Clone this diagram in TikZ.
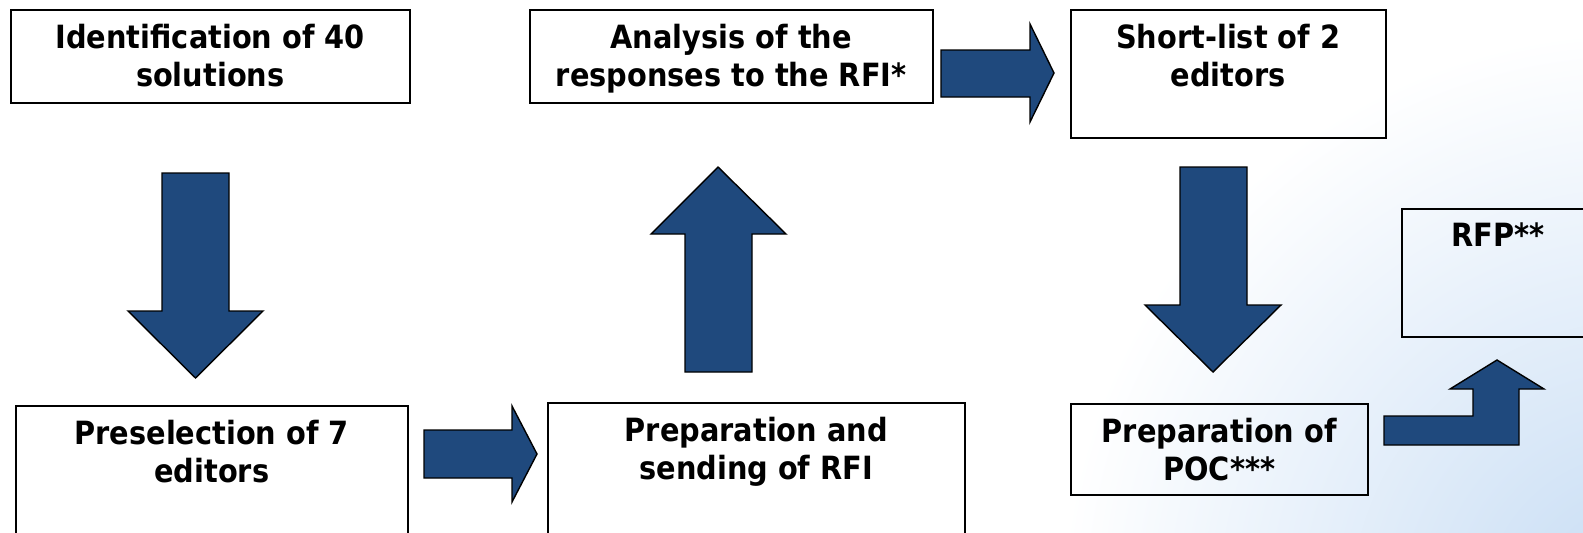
\documentclass[tikz,border=0pt]{standalone}
\usepackage{fontspec}
\setmainfont{DejaVu Sans}[FakeStretch=0.9]
\definecolor{arrowblue}{HTML}{1F497D}
\definecolor{wmblue}{RGB}{198,220,244}

\begin{document}
\begin{tikzpicture}[x=1pt, y=-1pt,
  box/.style={draw, line width=1.5pt, anchor=north west, inner sep=0pt},
  txt/.style={anchor=north, align=center, inner sep=0pt, yshift=-15pt,
    font=\bfseries\fontsize{32}{37.5}\selectfont},
  blockarrow/.style={draw, line width=1.4pt, fill=arrowblue, line join=miter}]
 \useasboundingbox (0,0) rectangle (1583,533);
 \shade[inner color=wmblue, outer color=white] (1640,610) circle (580);

 \node[box, minimum width=399pt, minimum height=93pt]  (ident)     at (10,9)    {};
 \node[box, minimum width=403pt, minimum height=93pt]  (analysis)  at (529,9)   {};
 \node[box, minimum width=315pt, minimum height=128pt] (shortlist) at (1070,9)  {};
 \node[box, minimum width=192pt, minimum height=128pt] (rfp)       at (1401,208){};
 \node[box, minimum width=392pt, minimum height=140pt] (presel)    at (15,405)  {};
 \node[box, minimum width=417pt, minimum height=140pt] (rfi)       at (547,402) {};
 \node[box, minimum width=297pt, minimum height=91pt]  (poc)       at (1070,403){};

 \node[txt] (identtxt)     at (ident.north)     {Identification of 40\\solutions};
 \node[txt] (analysistxt)  at (analysis.north)  {Analysis of the\\responses to the RFI*};
 \node[txt] (shortlisttxt) at (shortlist.north) {Short-list of 2\\editors};
 \node[txt] (rfptxt)       at (rfp.north)       {RFP**};
 \node[txt] (preseltxt)    at (presel.north)    {Preselection of 7\\editors};
 \node[txt] (rfitxt)       at (rfi.north)       {Preparation and\\sending of RFI};
 \node[txt] (poctxt)       at (poc.north)       {Preparation of\\POC***};

 \draw[blockarrow] (162,173) -- (229,173) -- (229,311) -- (263,311) -- (195.5,378) -- (128,311) -- (162,311) -- cycle;
 \draw[blockarrow] (424,430) -- (512,430) -- (512,406) -- (537,454) -- (512,502) -- (512,478) -- (424,478) -- cycle;
 \draw[blockarrow] (685,372) -- (685,234) -- (651,234) -- (718,167) -- (786,234) -- (752,234) -- (752,372) -- cycle;
 \draw[blockarrow] (941,50) -- (1030,50) -- (1030,24) -- (1054,73) -- (1030,122) -- (1030,97) -- (941,97) -- cycle;
 \draw[blockarrow] (1180,167) -- (1247,167) -- (1247,305) -- (1281,305) -- (1213,372) -- (1145,305) -- (1180,305) -- cycle;
 \draw[blockarrow] (1384,416) -- (1473,416) -- (1473,389) -- (1450,389) -- (1497,360) -- (1544,389) -- (1519,389) -- (1519,445) -- (1384,445) -- cycle;
\end{tikzpicture}
\end{document}
